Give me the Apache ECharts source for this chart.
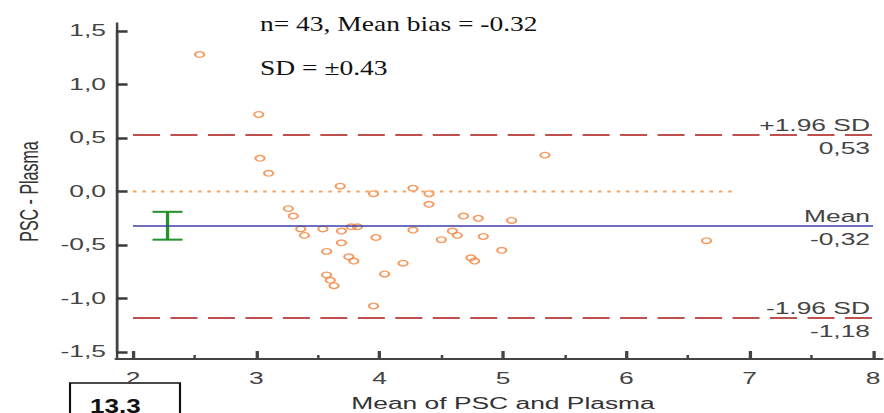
<!DOCTYPE html>
<html>
<head>
<meta charset="utf-8">
<script src="https://cdn.jsdelivr.net/npm/echarts@6/dist/echarts.min.js"></script>
<style>
  html, body { margin: 0; padding: 0; background: #fff; }
  #wrap { width: 884px; height: 413px; overflow: hidden; position: relative; }
  #chart { width: 536px; height: 413px; transform-origin: 0 0; }
</style>
</head>
<body>
<div id="wrap"><div id="chart"></div></div>
<script>
// ---- data ----
const meanX = [2.54, 3.02, 3.03, 3.10, 3.26, 3.30, 3.36, 3.39, 3.54, 3.57, 3.57, 3.60, 3.63, 3.68, 3.69, 3.69,
               3.75, 3.79, 3.77, 3.82, 3.95, 3.97, 3.95, 4.04, 4.19, 4.27, 4.27, 4.40, 4.40, 4.50, 4.59, 4.63,
               4.68, 4.80, 4.74, 4.77, 4.84, 4.99, 5.07, 5.34, 6.65];
const diffY = [1.28, 0.72, 0.31, 0.17, -0.16, -0.23, -0.35, -0.41, -0.35, -0.56, -0.78, -0.83, -0.88, 0.05, -0.37, -0.48,
               -0.61, -0.65, -0.33, -0.33, -0.02, -0.43, -1.07, -0.77, -0.67, 0.03, -0.36, -0.02, -0.12, -0.45, -0.37, -0.41,
               -0.23, -0.25, -0.62, -0.65, -0.42, -0.55, -0.27, 0.34, -0.46];
const meanBias = -0.32;
const upperLoA = 0.53;
const lowerLoA = -1.18;
const ciX = 2.28;
const ciHigh = -0.19;
const ciLow = -0.45;
const zeroLineX = [2, 6.9];
const xTicks = [2, 3, 4, 5, 6, 7, 8];
const yTicks = [-1.5, -1.0, -0.5, 0.0, 0.5, 1.0, 1.5];
const annot1 = 'n= 43, Mean bias = -0.32';
const annot2 = 'SD = \u00b10.43';
const panelLabel = '13.3';

// ---- layout: original picture is horizontally stretched ----
const W = 536, H = 413;
const S = 884 / W;
const u = px => px / S;
const el = document.getElementById('chart');
el.style.transform = 'scaleX(' + S + ')';

const chart = echarts.init(el, null, { renderer: 'svg', width: W, height: H });
const sans = '"Liberation Sans", Arial, sans-serif';
const serif = '"Liberation Serif", "Times New Roman", serif';
const axisColor = '#444';
const comma = (v, d) => v.toFixed(d).replace('.', ',');

const points = meanX.map((x, i) => [x, diffY[i]]);

const lblTop = (txt) => ({ show: true, position: 'insideEndTop', formatter: txt, color: '#444',
  fontFamily: sans, fontSize: 16, distance: [u(3), 1] });
const lblBottom = (txt) => ({ show: true, position: 'insideEndBottom', formatter: txt, color: '#444',
  fontFamily: sans, fontSize: 16, distance: [u(3), 6] });
const hidden = { color: 'rgba(0,0,0,0)', width: 0, type: 'solid' };
const loaDash = [u(27), u(10.47)];

const option = {
  animation: false,
  backgroundColor: '#fff',
  grid: [
    { left: u(133), right: u(11), top: 31, bottom: 61, outerBoundsMode: 'none', containLabel: false },
    { left: u(116), right: u(2), top: 23, bottom: 54, outerBoundsMode: 'none', containLabel: false }
  ],
  xAxis: [
    {
      gridIndex: 0, type: 'value', min: xTicks[0], max: xTicks[xTicks.length - 1], interval: 1,
      position: 'bottom', offset: 7,
      axisLine: { show: true, onZero: false, lineStyle: { color: axisColor, width: 2 } },
      axisTick: { show: true, inside: true, length: 8, lineStyle: { color: axisColor, width: 2 } },
      minorTick: { show: true, splitNumber: 2, length: 4, lineStyle: { color: axisColor, width: 1.5 } },
      splitLine: { show: false },
      axisLabel: { color: '#444', fontFamily: sans, fontSize: 16, margin: 11 },
      name: 'Mean of PSC and Plasma', nameLocation: 'middle', nameGap: 36,
      nameTextStyle: { color: '#333', fontFamily: sans, fontSize: 16 }
    },
    {
      gridIndex: 1, type: 'value', min: 0, max: 1, position: 'bottom',
      axisLine: { show: true, onZero: false, lineStyle: { color: axisColor, width: 2 } },
      axisTick: { show: false }, axisLabel: { show: false }, splitLine: { show: false }
    }
  ],
  yAxis: [
    {
      gridIndex: 0, type: 'value', min: yTicks[0], max: yTicks[yTicks.length - 1], interval: 0.5,
      position: 'left', offset: u(17),
      axisLine: { show: true, onZero: false, lineStyle: { color: axisColor, width: 1.5 } },
      axisTick: { show: true, inside: true, length: 7, lineStyle: { color: '#3a3a3a', width: 2.5 } },
      splitLine: { show: false },
      axisLabel: { color: '#444', fontFamily: sans, fontSize: 16, margin: u(10), formatter: v => comma(v, 1) },
      name: 'PSC - Plasma', nameLocation: 'middle', nameGap: 45, nameRotate: 90,
      nameTextStyle: { color: '#333', fontFamily: sans, fontSize: 16 }
    },
    {
      gridIndex: 1, type: 'value', min: 0, max: 1, position: 'left',
      axisLine: { show: true, onZero: false, lineStyle: { color: axisColor, width: 1.5 } },
      axisTick: { show: false }, axisLabel: { show: false }, splitLine: { show: false }
    }
  ],
  series: [
    {
      type: 'line', xAxisIndex: 0, yAxisIndex: 0, silent: true,
      data: zeroLineX.map(x => [x, 0]), symbol: 'none',
      lineStyle: { color: '#f5a462', width: 2, type: [u(3.5), u(5.8)] }
    },
    {
      type: 'scatter', xAxisIndex: 0, yAxisIndex: 0, silent: true,
      data: points, symbol: 'circle', symbolSize: 5.6,
      itemStyle: { color: 'rgba(255,255,255,0)', borderColor: '#f2823a', borderWidth: 1.3 },
      markLine: {
        silent: true, symbol: 'none', animation: false,
        data: [
          { yAxis: upperLoA, lineStyle: { color: '#c0504d', width: 2, type: loaDash }, label: lblTop('+1.96 SD') },
          { yAxis: upperLoA, lineStyle: hidden, label: lblBottom(comma(upperLoA, 2)) },
          { yAxis: meanBias, lineStyle: { color: '#3c3fa8', width: 1.5, type: 'solid' }, label: lblTop('Mean') },
          { yAxis: meanBias, lineStyle: hidden, label: lblBottom(comma(meanBias, 2)) },
          { yAxis: lowerLoA, lineStyle: { color: '#c0504d', width: 2, type: loaDash }, label: lblTop('-1.96 SD') },
          { yAxis: lowerLoA, lineStyle: hidden, label: lblBottom(comma(lowerLoA, 2)) }
        ]
      }
    },
    {
      type: 'custom', xAxisIndex: 0, yAxisIndex: 0, silent: true,
      data: [[ciX, ciHigh, ciLow]],
      renderItem: function (params, api) {
        const x = api.value(0);
        const pH = api.coord([x, api.value(1)]);
        const pL = api.coord([x, api.value(2)]);
        const hw = u(15);
        const st = { stroke: '#23922b', lineWidth: 2 };
        return {
          type: 'group',
          children: [
            { type: 'line', shape: { x1: pH[0], y1: pH[1], x2: pL[0], y2: pL[1] }, style: st },
            { type: 'line', shape: { x1: pH[0] - hw, y1: pH[1], x2: pH[0] + hw, y2: pH[1] }, style: st },
            { type: 'line', shape: { x1: pL[0] - hw, y1: pL[1], x2: pL[0] + hw, y2: pL[1] }, style: st }
          ]
        };
      }
    }
  ],
  graphic: [
    { type: 'text', x: u(260), y: 23, scaleX: 1.25 / S, silent: true,
      style: { text: annot1, font: '22px ' + serif, fill: '#111', textVerticalAlign: 'middle', verticalAlign: 'middle' } },
    { type: 'text', x: u(260), y: 67, scaleX: 1.25 / S, silent: true,
      style: { text: annot2, font: '22px ' + serif, fill: '#111', textVerticalAlign: 'middle', verticalAlign: 'middle' } },
    { type: 'rect', silent: true, shape: { x: u(70), y: 383, width: u(110), height: 40 },
      style: { fill: '#fff', stroke: '#111', lineWidth: 1.3 } },
    { type: 'text', x: u(90), y: 396, scaleX: 1.3 / S, silent: true,
      style: { text: panelLabel, font: 'bold 20px ' + sans, fill: '#111', textVerticalAlign: 'top', verticalAlign: 'top' } }
  ]
};
chart.setOption(option);
</script>
</body>
</html>
